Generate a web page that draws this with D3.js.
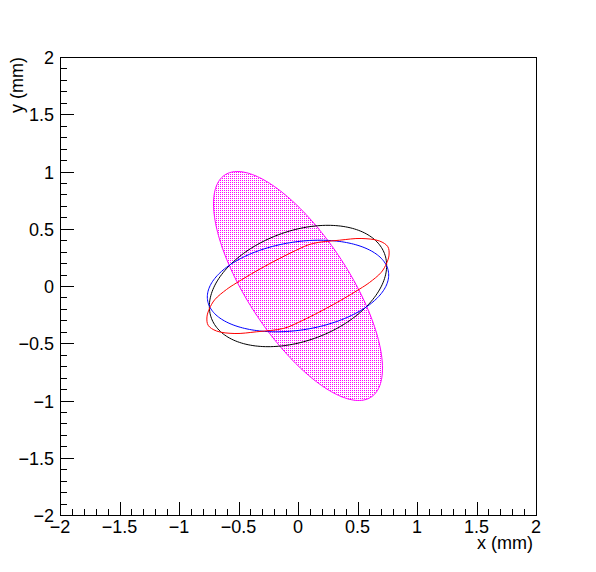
<!DOCTYPE html>
<html>
<head>
<meta charset="utf-8">
<script src="https://cdn.jsdelivr.net/npm/d3@7/dist/d3.min.js"></script>
<style>
  body { margin: 0; background: #fff; }
  text { font-family: "Liberation Sans", Arial, sans-serif; font-size: 18px; fill: #000; }
</style>
</head>
<body>
<svg id="viz"></svg>
<script>
const svg = d3.select("#viz");

const W = 596, H = 572;

// axis ticks
const xTicks = [-2, -1.5, -1, -0.5, 0, 0.5, 1, 1.5, 2];
const yTicks = [-2, -1.5, -1, -0.5, 0, 0.5, 1, 1.5, 2];
const xTitle = "x (mm)";
const yTitle = "y (mm)";

// ellipses, given as sigma x, sigma y and correlation
const ellipseColors = ["#ff00ff", "#000000", "#0000ff"];
const ellipseSx = [0.71, 0.745, 0.762];
const ellipseSy = [1.00, 0.53, 0.40];
const ellipseRho = [-0.718, 0.336, 0.24];

// red contour, traced point by point
const redX = [-0.765, -0.745, -0.70, -0.60, -0.52, -0.30, -0.02, 0.12, 0.35, 0.53, 0.685, 0.755,
              0.765, 0.745, 0.70, 0.60, 0.52, 0.30, 0.02, -0.12, -0.35, -0.53, -0.685, -0.755];
const redY = [-0.27, -0.20, -0.12, -0.03, 0.025, 0.16, 0.31, 0.37, 0.40, 0.415, 0.393, 0.343,
              0.27, 0.20, 0.12, 0.03, -0.025, -0.16, -0.31, -0.37, -0.40, -0.415, -0.393, -0.343];

svg.attr("width", W).attr("height", H);

const mLeft = 60, mRight = 536, mTop = 57, mBottom = 515;

const x = d3.scaleLinear().domain([-2, 2]).range([mLeft, mRight]);
const y = d3.scaleLinear().domain([-2, 2]).range([mBottom, mTop]);

svg.append("rect").attr("width", W).attr("height", H).attr("fill", "#fff");

// dotted fill pattern like ROOT style 3001
const defs = svg.append("defs");
const pat = defs.append("pattern")
  .attr("id", "dots")
  .attr("patternUnits", "userSpaceOnUse")
  .attr("width", 2).attr("height", 2);
pat.append("rect").attr("x", 0).attr("y", 0).attr("width", 1).attr("height", 1)
  .attr("fill", "#ff00ff");

const line = d3.line().x(d => x(d[0])).y(d => y(d[1]));

function ellipsePoints(sx, sy, rho) {
  const pts = [];
  const s = Math.sqrt(1 - rho * rho);
  for (let i = 0; i <= 200; i++) {
    const t = (i / 200) * 2 * Math.PI;
    pts.push([sx * Math.cos(t), sy * (rho * Math.cos(t) + s * Math.sin(t))]);
  }
  return pts;
}

const plot = svg.append("g");

// filled ellipse
plot.append("path")
  .attr("d", line(ellipsePoints(ellipseSx[0], ellipseSy[0], ellipseRho[0])) + "Z")
  .attr("fill", "url(#dots)")
  .attr("stroke", ellipseColors[0])
  .attr("stroke-width", 1);

// outlined ellipses
[1, 2].forEach(i => {
  plot.append("path")
    .attr("d", line(ellipsePoints(ellipseSx[i], ellipseSy[i], ellipseRho[i])) + "Z")
    .attr("fill", "none")
    .attr("stroke", ellipseColors[i])
    .attr("stroke-width", 1);
});

// red contour
const redPts = redX.map((v, i) => [v, redY[i]]);
plot.append("path")
  .attr("d", d3.line().x(d => x(d[0])).y(d => y(d[1])).curve(d3.curveCatmullRomClosed)(redPts))
  .attr("fill", "none")
  .attr("stroke", "#ff0000")
  .attr("stroke-width", 1);

// frame
svg.append("rect")
  .attr("x", mLeft + 0.5).attr("y", mTop + 0.5)
  .attr("width", mRight - mLeft).attr("height", mBottom - mTop)
  .attr("fill", "none").attr("stroke", "#000").attr("stroke-width", 1)
  .attr("shape-rendering", "crispEdges");

const axes = svg.append("g").attr("shape-rendering", "crispEdges").attr("stroke", "#000");

// minor ticks every 0.1
const minor = x.ticks(40);
minor.forEach(v => {
  const isMajor = xTicks.includes(Math.round(v * 10) / 10);
  const px = Math.round(x(v)) + 0.5;
  axes.append("line")
    .attr("x1", px).attr("x2", px)
    .attr("y1", mBottom).attr("y2", mBottom - (isMajor ? 13 : 6.5));
  const py = Math.round(y(v)) + 0.5;
  axes.append("line")
    .attr("x1", mLeft).attr("x2", mLeft + (isMajor ? 14 : 7))
    .attr("y1", py).attr("y2", py);
});

const fmt = v => (v < 0 ? "\u2212" : "") + Math.abs(v);

svg.selectAll("text.xl")
  .data(xTicks)
  .enter()
  .append("text")
  .attr("class", "xl")
  .attr("x", d => x(d))
  .attr("y", mBottom + 18)
  .attr("text-anchor", "middle")
  .text(fmt);

svg.selectAll("text.yl")
  .data(yTicks)
  .enter()
  .append("text")
  .attr("class", "yl")
  .attr("x", mLeft - 6)
  .attr("y", d => y(d) + 7)
  .attr("text-anchor", "end")
  .text(fmt);

svg.append("text")
  .attr("x", mRight - 3)
  .attr("y", 549)
  .attr("text-anchor", "end")
  .text(xTitle);

svg.append("text")
  .attr("transform", `translate(23,${mTop}) rotate(-90)`)
  .attr("text-anchor", "end")
  .text(yTitle);
</script>
</body>
</html>
